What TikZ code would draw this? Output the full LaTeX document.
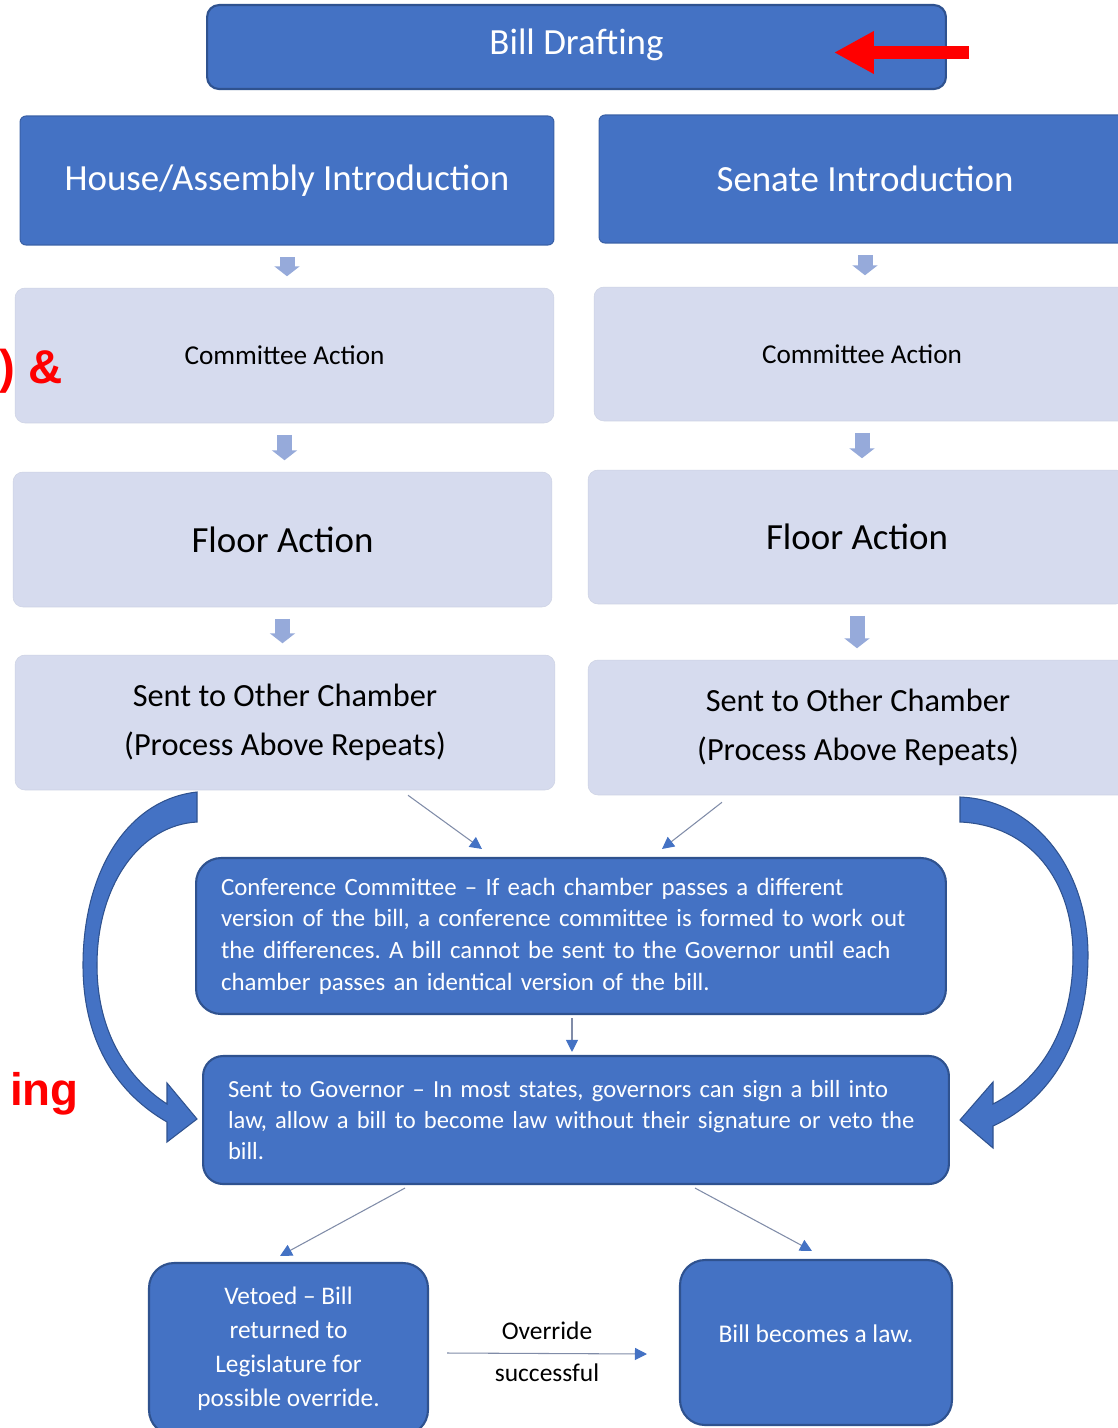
\documentclass[tikz,border=0pt]{standalone}
\usepackage{fontspec}
\setmainfont{Carlito}
\newfontfamily\notefont{Liberation Sans}
\usetikzlibrary{arrows.meta}
\definecolor{bluefill}{HTML}{4472C4}
\definecolor{blueline}{HTML}{2F528F}
\definecolor{palefill}{RGB}{214,219,238}
\definecolor{stepblue}{RGB}{150,170,218}
\definecolor{linegray}{RGB}{128,140,168}
\frenchspacing

\begin{document}
\begin{tikzpicture}[x=0.02cm,y=-0.02cm,
		bluebox/.style={draw=blueline,line width=1.2pt,fill=bluefill,text=white},
		headbox/.style={draw=bluefill!85!black,line width=0.6pt,fill=bluefill,text=white,rounded corners=0.12cm,font=\fontsize{21}{25}\selectfont},
		palebox/.style={fill=palefill,draw=palefill!96!black,line width=0.3pt,rounded corners=0.2cm,text=black},
		steparrow/.style={draw=stepblue,line width=0.3cm,shorten <=0.23cm,shorten >=0.23cm,-{Triangle[length=0.2cm,width=0.5cm]}},
		thinarrow/.style={draw=linegray,line width=0.6pt,-{Triangle[length=0.24cm,width=0.24cm,color=bluefill]}},
		curvearrow/.style={fill=bluefill,draw=blueline,line width=0.6pt},
		rednote/.style={text=red,inner sep=0pt,font=\notefont\bfseries}]
		\path[fill=white,use as bounding box] (0,0) rectangle (1117,1428);
		
		\node[bluebox,rounded corners=0.24cm,minimum width=14.78cm,minimum height=1.68cm,text depth=0.2cm,font=\fontsize{21}{25}\selectfont] (draft) at (576.5,47) {Bill Drafting};
		
		\node[headbox,minimum width=10.68cm,minimum height=2.58cm] (house) at (287,180.5) {House/Assembly Introduction};
		\node[headbox,minimum width=10.64cm,minimum height=2.56cm] (senate) at (865,179) {Senate Introduction};
		
		\node[palebox,minimum width=10.78cm,minimum height=2.7cm,font=\fontsize{15.5}{19}\selectfont] (comL) at (284.5,355.5) {Committee Action};
		\node[palebox,minimum width=10.72cm,minimum height=2.68cm,font=\fontsize{15.5}{19}\selectfont] (comR) at (862,354) {Committee Action};
		
		\node[palebox,minimum width=10.78cm,minimum height=2.7cm,font=\fontsize{21}{25}\selectfont] (floorL) at (282.5,539.5) {Floor Action};
		\node[palebox,minimum width=10.76cm,minimum height=2.68cm,font=\fontsize{21}{25}\selectfont] (floorR) at (857,537) {Floor Action};
		
		\node[palebox,align=center,minimum width=10.8cm,minimum height=2.7cm,font=\fontsize{18.4}{28.3}\selectfont] (sentL) at (285,722.5) {Sent to Other Chamber\\(Process Above Repeats)};
		\node[palebox,align=center,minimum width=10.8cm,minimum height=2.7cm,font=\fontsize{18.4}{28.3}\selectfont] (sentR) at (858,727.5) {Sent to Other Chamber\\(Process Above Repeats)};
		
		\node[bluebox,rounded corners=0.5cm,text width=14cm,align=left,inner xsep=0.5cm,minimum height=3.12cm,font=\fontsize{14.15}{18}\selectfont] (conf) at (571,936) {Conference Committee – If each chamber passes a different\\version of the bill, a conference committee is formed to work out\\the differences. A bill cannot be sent to the Governor until each\\chamber passes an identical version of the bill.};
		
		\node[bluebox,rounded corners=0.4cm,text width=13.92cm,align=left,inner xsep=0.5cm,minimum height=2.56cm,font=\fontsize{14}{17.6}\selectfont] (gov) at (576,1120) {Sent to Governor – In most states, governors can sign a bill into\\law, allow a bill to become law without their signature or veto the\\bill.};
		
		\node[bluebox,rounded corners=0.5cm,align=center,minimum width=5.58cm,minimum height=3.44cm,font=\fontsize{14.4}{19.3}\selectfont] (veto) at (288.5,1349) {Vetoed – Bill\\returned to\\Legislature for\\possible override.};
		\node[bluebox,rounded corners=0.5cm,minimum width=5.44cm,minimum height=3.3cm,text depth=0.36cm,font=\fontsize{14.5}{18}\selectfont] (law) at (816,1342.5) {Bill becomes a law.};
		
		\foreach \a/\b in {house/comL,comL/floorL,floorL/sentL,senate/comR,comR/floorR,floorR/sentR}
			\draw[steparrow] (\a.south) -- (\a.south |- \b.north);
		
		\draw[thinarrow] ([shift={(123,5)}]sentL.south) -- ([shift={(-89,-8)}]conf.north);
		\draw[thinarrow] ([shift={(-136,7)}]sentR.south) -- ([shift={(91,-8)}]conf.north);
		\draw[thinarrow] ([shift={(1,3)}]conf.south) -- ([shift={(-4,-3)}]gov.north);
		\draw[thinarrow] ([shift={(-171,3)}]gov.south) -- ([shift={(-8.5,-6)}]veto.north);
		\draw[thinarrow] ([shift={(119,3)}]gov.south) -- ([shift={(-4,-8)}]law.north);
		\draw[thinarrow] ([shift={(18,4)}]veto.east) -- ([shift={(-32,11.5)}]law.west)
			node[midway,above=4pt,text=black,font=\fontsize{14.5}{18}\selectfont] (over) {Override}
			node[midway,below=2pt,text=black,font=\fontsize{14.5}{18}\selectfont] (succ) {successful};
		
		\filldraw[curvearrow] (197,792) .. controls (125,800) and (83,875) .. (83,965) .. controls (83,1045) and (120,1095) .. (167,1122) -- (167,1142) -- (197,1119) -- (167,1083) -- (167,1104) .. controls (130,1080) and (97,1035) .. (97,965) .. controls (97,885) and (140,825) .. (197,822) -- cycle;
		\filldraw[curvearrow] (960,797) .. controls (1035,800) and (1088,870) .. (1088,955) .. controls (1088,1040) and (1050,1100) .. (993,1126) -- (993,1148) -- (960,1120) -- (993,1082) -- (993,1104) .. controls (1040,1080) and (1073,1030) .. (1073,955) .. controls (1073,880) and (1030,825) .. (960,822) -- cycle;
		
		\coordinate (redtail) at (969,52.5);
		\draw[red,line width=0.26cm,-{Triangle[length=0.8cm,width=0.8cm]}] (redtail) -- ([shift={(-113,5.5)}]draft.east);
		
		\node[rednote,anchor=base west,font=\notefont\bfseries\fontsize{27}{30}\selectfont] (amp) at (-1,383) {) \&};
		\node[rednote,anchor=base east,font=\notefont\bfseries\fontsize{26}{30}\selectfont] (ing) at (79,1105) {ing};
	\end{tikzpicture}
\end{document}
